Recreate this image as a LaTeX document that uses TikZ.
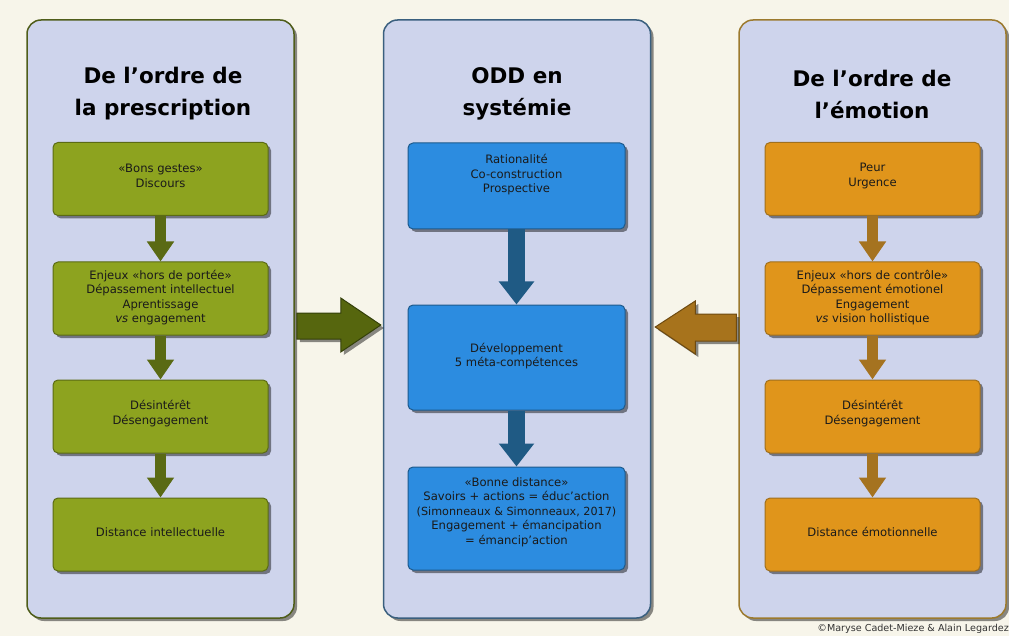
\documentclass[tikz,border=0pt]{standalone}
\usepackage{fontspec}
\setmainfont{DejaVu Sans}
\usetikzlibrary{shadows,arrows.meta,calc}
\definecolor{bg}{HTML}{F7F5EA}
\definecolor{panelfill}{HTML}{CED4EC}
\definecolor{gborder}{HTML}{4F5D1A}
\definecolor{bborder}{HTML}{3A5F7E}
\definecolor{oborder}{HTML}{9C7A2E}
\definecolor{gfill}{HTML}{8DA31F}
\definecolor{gline}{HTML}{5B6B14}
\definecolor{garrow}{HTML}{5A6A14}
\definecolor{bfill}{HTML}{2C8CE0}
\definecolor{bline}{HTML}{1D5A8C}
\definecolor{barrow}{HTML}{1F5A84}
\definecolor{ofill}{HTML}{E0951B}
\definecolor{oline}{HTML}{A0701E}
\definecolor{oarrow}{HTML}{A57320}
\definecolor{bigg}{HTML}{56660E}
\definecolor{biggline}{HTML}{34400A}
\definecolor{bigo}{HTML}{A7731C}
\definecolor{bigoline}{HTML}{6E4A10}
\definecolor{txt}{HTML}{1A1A1A}
\begin{document}
\begin{tikzpicture}[x=1pt,y=-1pt,
  shd/.style={drop shadow={shadow xshift=3pt,shadow yshift=-3pt,opacity=0.45,fill=black}},
  panel/.style={draw,line width=1.5pt,rounded corners=14pt,fill=panelfill,
    minimum width=267pt,minimum height=598pt,inner sep=0pt,shd},
  box/.style={draw,line width=1pt,rounded corners=5pt,inner sep=0pt,shd},
  gbox/.style={box,fill=gfill,draw=gline,minimum width=215pt,minimum height=73pt},
  obox/.style={box,fill=ofill,draw=oline,minimum width=215pt,minimum height=73pt},
  bbox/.style={box,fill=bfill,draw=bline,minimum width=217pt},
  boxtext/.style={align=center,text=txt,inner sep=0pt,font=\fontsize{11.6}{14.5}\selectfont},
  title/.style={align=center,text=black,inner sep=0pt,font=\fontsize{21.5}{32}\selectfont\bfseries},
  gdown/.style={draw=garrow,line width=11pt,-{Triangle[width=26pt,length=20pt]}},
  odown/.style={draw=oarrow,line width=11pt,-{Triangle[width=26pt,length=20pt]}},
  bdown/.style={draw=barrow,line width=17pt,-{Triangle[width=34pt,length=23pt]}},
  bigarrow/.style={line width=1pt,shd}
]
\useasboundingbox (0,0) rectangle (1009,636);
\fill[bg] (0,0) rectangle (1009,636);

% panels
\node[panel,draw=gborder] (L) at (160.5,319) {};
\node[panel,draw=bborder] (M) at (517,319) {};
\node[panel,draw=oborder] (R) at (872.5,319) {};

% titles
\node[title] (Lt) at (163,94) {De l’ordre de\\la prescription};
\node[title] (Mt) at (517,94) {ODD en\\systémie};
\node[title] (Rt) at (872,94) {De l’ordre de\\l’émotion};

% left boxes
\node[gbox] (L1) at (160.5,179) {};
\node[gbox] (L2) at (160.5,298.5) {};
\node[gbox] (L3) at (160.5,416.5) {};
\node[gbox] (L4) at (160.5,534.5) {};
\node[boxtext] (L1t) at (160.5,176) {«Bons gestes»\\Discours};
\node[boxtext] (L2t) at (160.5,297.5) {Enjeux «hors de portée»\\Dépassement intellectuel\\Aprentissage\\\textit{vs} engagement};
\node[boxtext] (L3t) at (160.5,413.5) {Désintérêt\\Désengagement};
\node[boxtext] (L4t) at (160.5,532) {Distance intellectuelle};
\draw[gdown] (L1.south) -- (L2.north);
\draw[gdown] (L2.south) -- (L3.north);
\draw[gdown] (L3.south) -- (L4.north);

% middle boxes
\node[bbox,minimum height=86pt] (M1) at (516.5,186) {};
\node[bbox,minimum height=105pt] (M2) at (516.5,357.5) {};
\node[bbox,minimum height=103pt] (M3) at (516.5,518.5) {};
\node[boxtext] (M1t) at (516.5,175) {Rationalité\\Co-construction\\Prospective};
\node[boxtext] (M2t) at (516.5,356) {Développement\\5 méta-compétences};
\node[boxtext] (M3t) at (516.5,512) {«Bonne distance»\\Savoirs + actions = éduc’action\\{\fontsize{11.2}{14.5}\selectfont (Simonneaux \& Simonneaux, 2017)}\\Engagement + émancipation\\= émancip’action};
\draw[bdown] (M1.south) -- (M2.north);
\draw[bdown] (M2.south) -- (M3.north);

% right boxes
\node[obox] (R1) at (872.5,179) {};
\node[obox] (R2) at (872.5,298.5) {};
\node[obox] (R3) at (872.5,416.5) {};
\node[obox] (R4) at (872.5,534.5) {};
\node[boxtext] (R1t) at (872.5,176) {Peur\\Urgence};
\node[boxtext] (R2t) at (872.5,297.5) {Enjeux «hors de contrôle»\\Dépassement émotionel\\Engagement\\\textit{vs} vision hollistique};
\node[boxtext] (R3t) at (872.5,413.5) {Désintérêt\\Désengagement};
\node[boxtext] (R4t) at (872.5,532) {Distance émotionnelle};
\draw[odown] (R1.south) -- (R2.north);
\draw[odown] (R2.south) -- (R3.north);
\draw[odown] (R3.south) -- (R4.north);

% big arrows
\filldraw[bigarrow,fill=bigg,draw=biggline]
  ($(L.east)+(2,-6)$) -- ($(M.west)+(-42,-6)$) -- ($(M.west)+(-42,-21)$)
  -- ($(M.west)+(-2,6)$) -- ($(M.west)+(-42,33)$) -- ($(M.west)+(-42,20)$)
  -- ($(L.east)+(2,20)$) -- cycle;
\filldraw[bigarrow,fill=bigo,draw=bigoline]
  ($(R.west)+(-2,-5)$) -- ($(M.east)+(44,-5)$) -- ($(M.east)+(44,-18)$)
  -- ($(M.east)+(4,8)$) -- ($(M.east)+(44,35)$) -- ($(M.east)+(44,22)$)
  -- ($(R.west)+(-2,22)$) -- cycle;

% copyright
\node[anchor=east,inner sep=0pt,text=black!80,font=\fontsize{9.6}{11}\selectfont] (cp) at (1009,629) {©Maryse Cadet-Mieze \& Alain Legardez};
\end{tikzpicture}
\end{document}
